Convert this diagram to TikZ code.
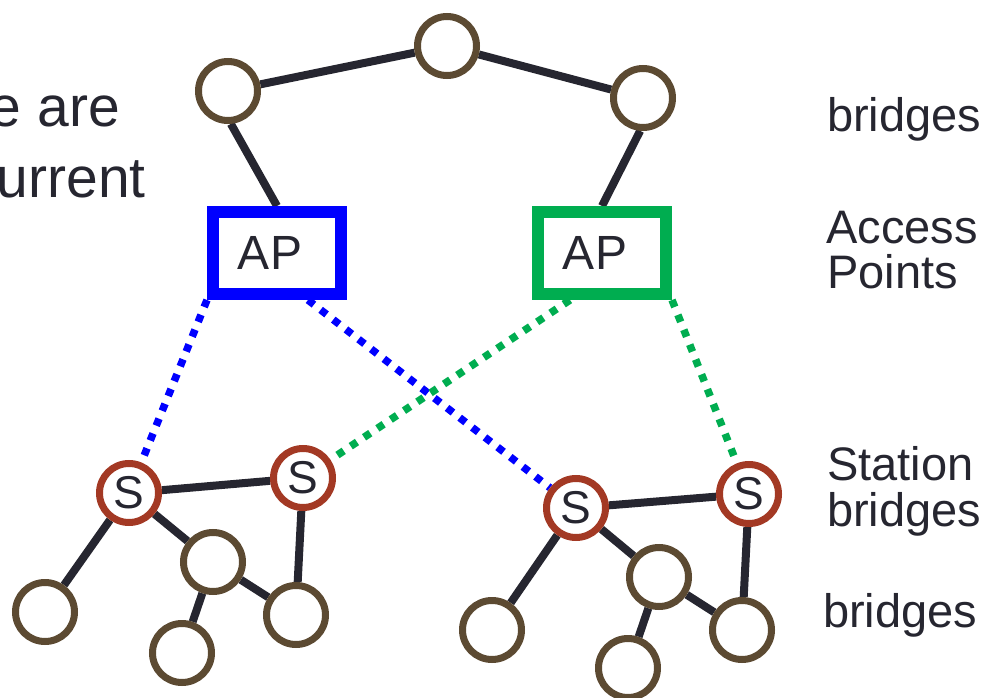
\documentclass[tikz,border=0pt]{standalone}
\usepackage{fontspec}
\setmainfont{Liberation Sans}
\usetikzlibrary{backgrounds}
\definecolor{ring}{RGB}{92,74,50}
\definecolor{sring}{RGB}{163,57,36}
\definecolor{ink}{RGB}{38,38,48}
\definecolor{apblue}{RGB}{0,0,255}
\definecolor{apgreen}{RGB}{0,173,80}
\begin{document}
\begin{tikzpicture}[x=1pt,y=-1pt,
 bridge/.style={circle, draw=ring, line width=7pt, minimum size=59pt, inner sep=0pt, fill=white},
 sta/.style={circle, draw=sring, line width=7pt, minimum size=59pt, inner sep=0pt, fill=white, text=ink, font=\fontsize{46}{46}\selectfont},
 apbox/.style={rectangle, line width=12pt, minimum width=128pt, minimum height=82pt, inner sep=0pt, fill=white, text=ink, font=\fontsize{48}{48}\selectfont},
 link/.style={draw=ink, line width=8pt},
 radio/.style={line width=7.5pt, dash pattern=on 7.5pt off 8.5pt},
 lbl/.style={text=ink, font=\fontsize{47}{47}\selectfont, inner sep=0pt, anchor=base west},
 big/.style={text=ink, font=\fontsize{57}{57}\selectfont, inner sep=0pt, anchor=base east}]
\useasboundingbox (0,0) rectangle (988,698);

% top bridges
\node[bridge] (t0) at (447,46) {};
\node[bridge] (t1) at (228,91) {};
\node[bridge] (t2) at (643,98) {};
% access points
\node[apbox, draw=apblue] (apb) at (277,253) {AP\kern14pt};
\node[apbox, draw=apgreen] (apg) at (602,253) {AP\kern14pt};
% station bridges
\node[sta] (s1) at (129,493) {S};
\node[sta] (s2) at (303,478) {S};
\node[sta] (s3) at (576,508) {S};
\node[sta] (s4) at (749,494) {S};
% lower bridges
\node[bridge] (l1) at (45,612) {};
\node[bridge] (l2) at (213,562) {};
\node[bridge] (l3) at (296,615) {};
\node[bridge] (l4) at (182,653) {};
\node[bridge] (r1) at (492,630) {};
\node[bridge] (r2) at (659,577) {};
\node[bridge] (r3) at (742,630) {};
\node[bridge] (r4) at (628,668) {};

\begin{scope}[on background layer]
\draw[link] (t0) -- (t1);
\draw[link] (t0) -- (t2);
\draw[link] (t1.-85) -- (apb.north);
\draw[link] (t2.-95) -- (apg.north);
\draw[link] (s1) -- (s2);
\draw[link] (s1) -- (l1);
\draw[link] (s1) -- (l2);
\draw[link] (l2) -- (l4);
\draw[link] (l2) -- (l3);
\draw[link] (s2) -- (l3);
\draw[link] (s3) -- (s4);
\draw[link] (s3) -- (r1);
\draw[link] (s3) -- (r2);
\draw[link] (r2) -- (r4);
\draw[link] (r2) -- (r3);
\draw[link] (s4) -- (r3);
\draw[radio, draw=apblue] (apb.south west) -- (s1);
\draw[radio, draw=apblue] ([xshift=31pt]apb.south) -- (s3);
\draw[radio, draw=apgreen] ([xshift=-32pt]apg.south) -- (s2);
\draw[radio, draw=apgreen] (apg.south east) -- (s4);
\end{scope}

% labels
\node[lbl] (lb1) at (827,132) {bridges};
\node[lbl] (lb2) at (826,243) {Access};
\node[lbl] (lb3) at (827,288) {Points};
\node[lbl] (lb4) at (827,480) {Station};
\node[lbl] (lb5) at (827,526) {bridges};
\node[lbl] (lb6) at (823,627) {bridges};
\node[big] (lt1) at (120,127) {e are};
\node[big] (lt2) at (146,197) {urrent};
\end{tikzpicture}
\end{document}
